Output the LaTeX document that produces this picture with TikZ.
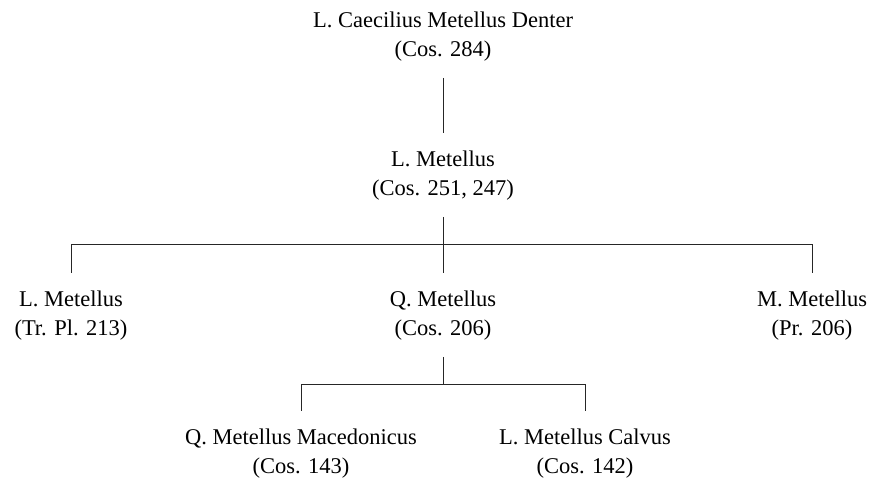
\documentclass[tikz,border=0pt]{standalone}
\usepackage{fontspec}
\setmainfont{Liberation Serif}
\nonfrenchspacing
\begin{document}
\begin{tikzpicture}[x=1pt,y=-1pt,
  person/.style={align=center, inner xsep=0pt, inner ysep=17pt, anchor=base,
    font=\fontsize{22.5}{29}\selectfont},
  link/.style={draw=black!85, line width=0.8pt}]
\useasboundingbox (0,0) rectangle (873,483);
\node[person] (denter) at (443,56) {L. Caecilius Metellus Denter\\(Cos. 284)};
\node[person] (lmet) at (443,195) {L. Metellus\\(Cos. 251, 247)};
\node[person] (ltr) at (71,335) {L. Metellus\\(Tr. Pl. 213)};
\node[person] (qmet) at (443,335) {Q. Metellus\\(Cos. 206)};
\node[person] (mmet) at (812,335) {M. Metellus\\(Pr. 206)};
\node[person] (qmac) at (301,473) {Q. Metellus Macedonicus\\(Cos. 143)};
\node[person] (lcal) at (585,473) {L. Metellus Calvus\\(Cos. 142)};
\coordinate (j1) at (443,244);
\coordinate (j2) at (443,384);
\draw[link] (denter.south) -- (lmet.north);
\draw[link] (lmet.south) -- (j1);
\draw[link] (j1) -| (ltr.north);
\draw[link] (j1) -| (mmet.north);
\draw[link] (j1) -- (qmet.north);
\draw[link] (qmet.south) -- (j2);
\draw[link] (j2) -| (qmac.north);
\draw[link] (j2) -| (lcal.north);
\end{tikzpicture}
\end{document}
